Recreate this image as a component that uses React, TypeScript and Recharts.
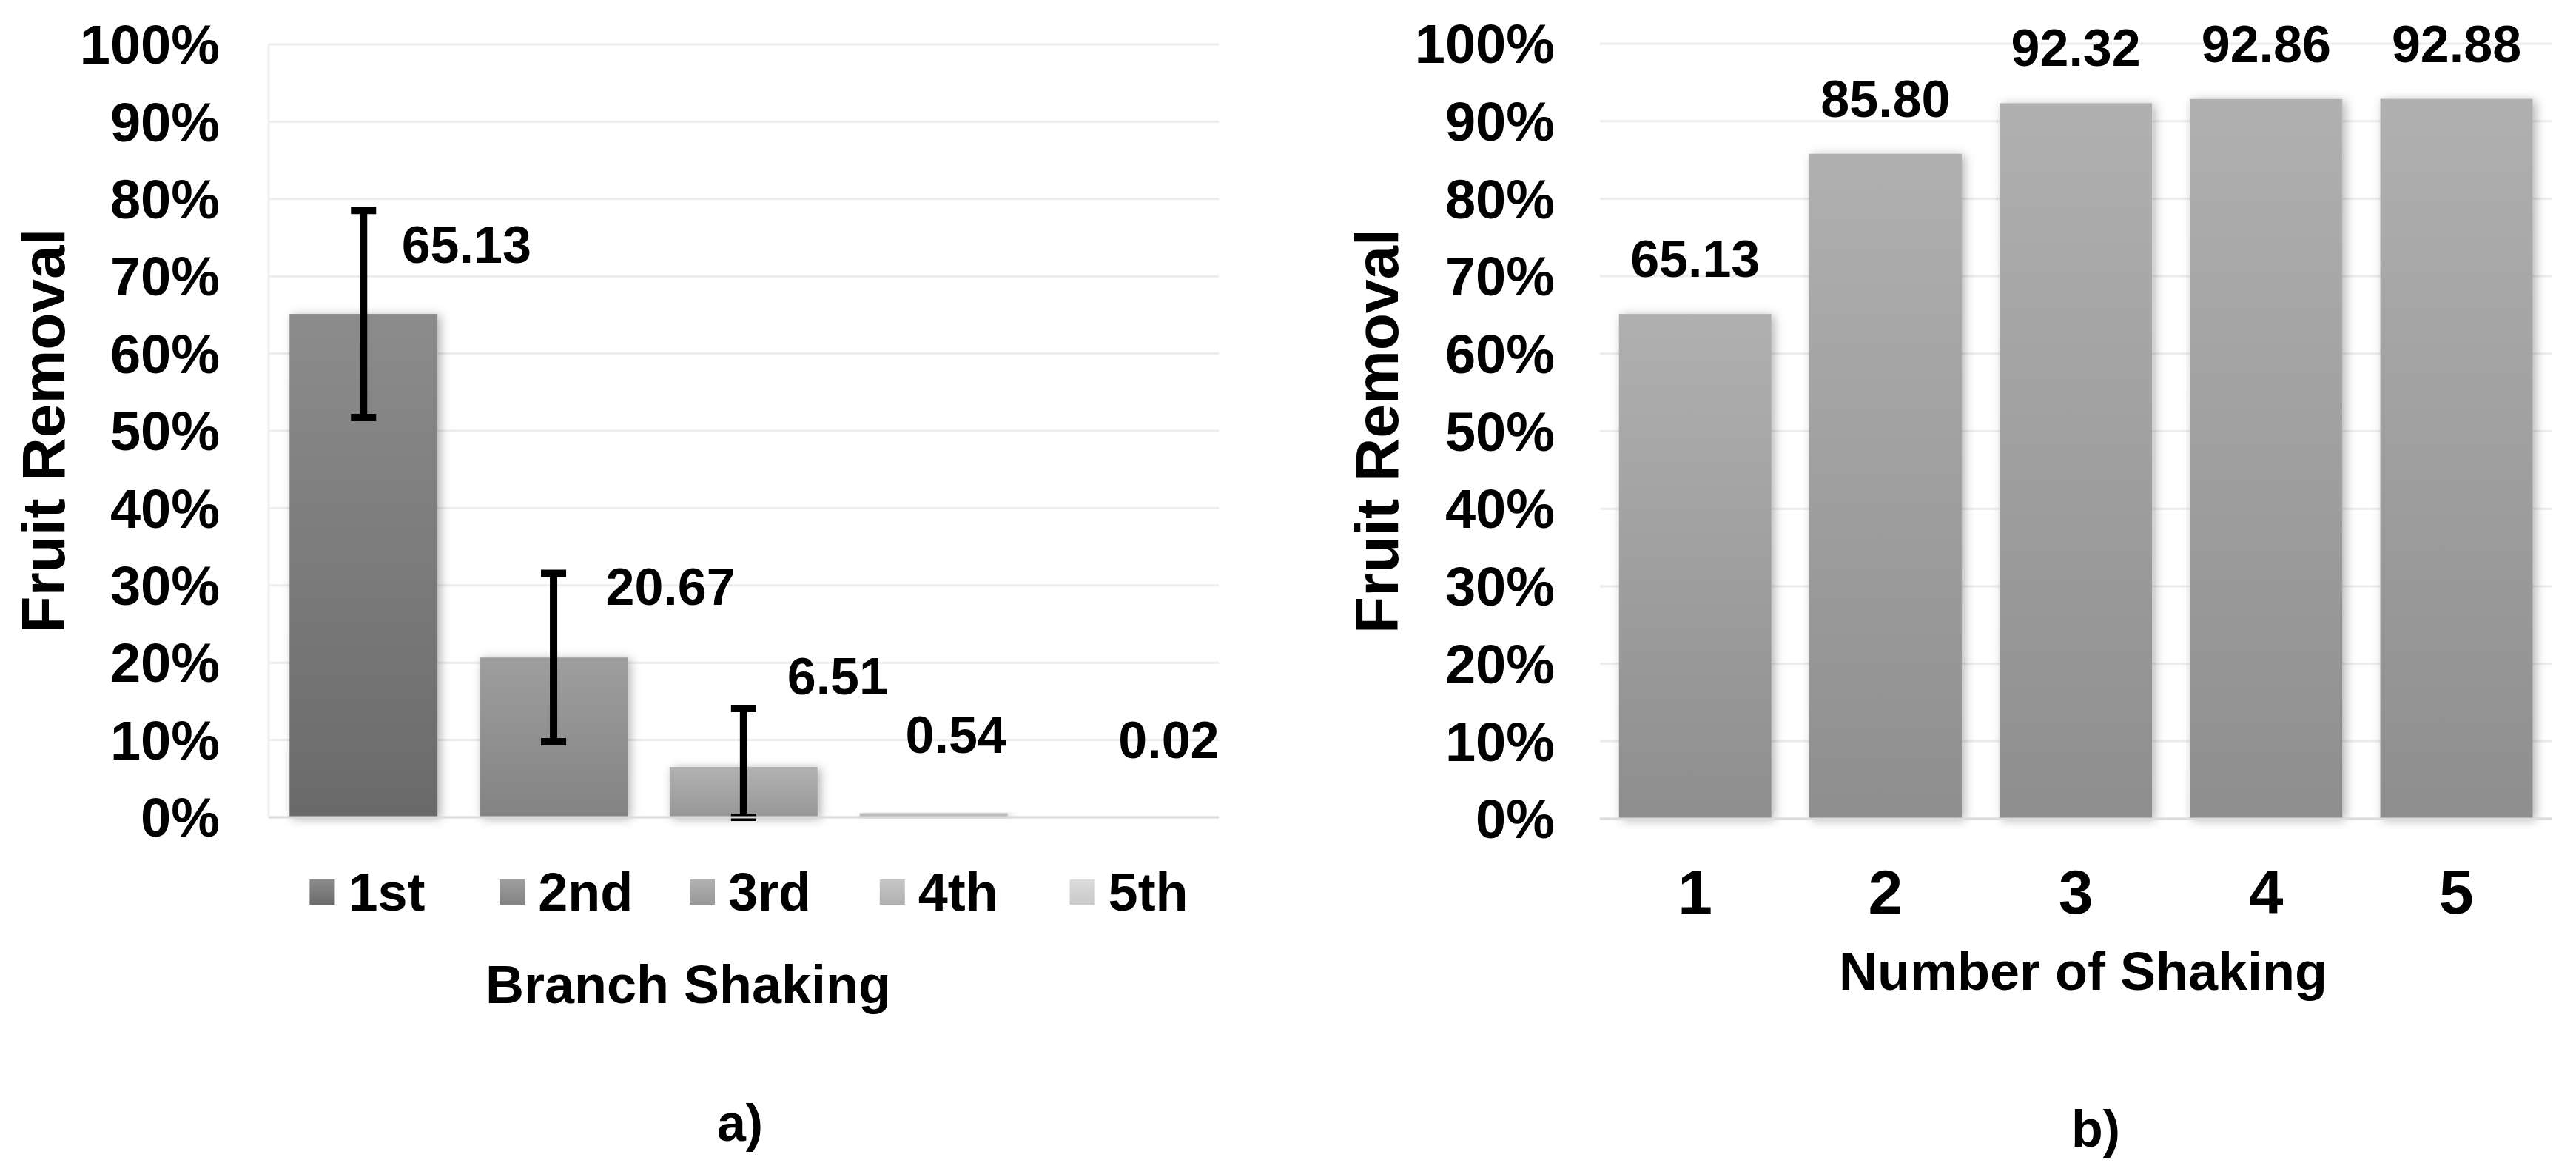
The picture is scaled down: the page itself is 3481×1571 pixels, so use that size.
import React from 'react';
import { BarChart, Bar, XAxis, YAxis, CartesianGrid, Cell, ErrorBar, LabelList, Label } from 'recharts';

// panel a) – removal per branch shaking
const branchCategories = ['1st', '2nd', '3rd', '4th', '5th'];
const branchRemoval = [65.13, 20.67, 6.51, 0.54, 0.02];
const branchSd = [13.4, 10.9, 7.57, 0, 0];

// panel b) – cumulative removal by number of shakings
const shakeCategories = ['1', '2', '3', '4', '5'];
const cumulativeRemoval = [65.13, 85.8, 92.32, 92.86, 92.88];

const percentTicks = [0, 10, 20, 30, 40, 50, 60, 70, 80, 90, 100];

// greys for the five branch bars (top, bottom of the gradient)
const branchShades = [
  ['#8c8c8c', '#6a6a6a'],
  ['#9e9e9e', '#838383'],
  ['#b2b2b2', '#979797'],
  ['#c6c6c6', '#b0b0b0'],
  ['#dcdcdc', '#c9c9c9'],
];
// label nudges for panel a) (dx from bar centre, rise of baseline above bar top)
const labelDx = [139, 158, 127, 30, 61];
const labelRise = [69, 71, 98, 81, 80];

const FONT = '"Liberation Sans", Arial, Helvetica, sans-serif';

// error bars are cut at the 0% line, so the lower arm never goes below zero
const branchData = branchCategories.map((name, i) => ({
  name,
  removal: branchRemoval[i],
  err: branchSd[i] ? [Math.min(branchSd[i], branchRemoval[i]), branchSd[i]] : 0,
}));
const shakeData = shakeCategories.map((name, i) => ({ name, removal: cumulativeRemoval[i] }));

const pct = (v: number) => `${v}%`;

function yTitle(baselineX: number) {
  return (p: any) => {
    const vb = p.viewBox || {};
    const x = vb.x + baselineX;
    const cy = vb.y + vb.height / 2;
    return (
      <text x={x} y={cy} transform={`rotate(-90 ${x} ${cy})`} textAnchor="middle"
        fontFamily={FONT} fontWeight="bold" fontSize={82} fill="#000">
        Fruit Removal
      </text>
    );
  };
}

function xTitle(text: string, dx: number, dy: number) {
  return (p: any) => {
    const vb = p.viewBox || {};
    return (
      <text x={vb.x + vb.width / 2 + dx} y={vb.y + dy} textAnchor="middle"
        fontFamily={FONT} fontWeight="bold" fontSize={72} fill="#000">
        {text}
      </text>
    );
  };
}

const shadowBar = (filterId: string) => (p: any) => (
  <rect x={p.x} y={p.y} width={p.width} height={Math.max(p.height, 0)} fill={p.fill} filter={`url(#${filterId})`} />
);

function LegendTick(p: any) {
  const i = branchCategories.indexOf(p.payload.value);
  return (
    <g>
      <rect x={p.x - 73} y={p.y + 84} width={34} height={34} fill={`url(#branchGrad${i})`} />
      <text x={p.x - 21} y={p.y + 126} fontFamily={FONT} fontWeight="bold" fontSize={72} fill="#000">
        {p.payload.value}
      </text>
    </g>
  );
}

function BranchLabel(p: any) {
  const i = p.index;
  const vb = p.viewBox || p;
  const cx = vb.x + vb.width / 2 + labelDx[i];
  const y = vb.y - labelRise[i];
  return (
    <text x={cx} y={y} textAnchor="middle" fontFamily={FONT} fontWeight="bold" fontSize={70} fill="#000">
      {Number(p.value).toFixed(2)}
    </text>
  );
}

export default function App() {
  const tickStyle = { fontFamily: FONT, fontWeight: 'bold', fontSize: 74, fill: '#000' };
  return (
    <div style={{ position: 'absolute', left: 0, top: 0, width: 3481, height: 1571, background: '#fff' }}>
      <div style={{ position: 'absolute', left: 0, top: 0 }}>
        <BarChart width={1740} height={1571} data={branchData} barCategoryGap="11%"
          margin={{ top: 60, right: 93, left: 0, bottom: 167 }}>
          <defs>
            {branchShades.map(([top, bottom], i) => (
              <linearGradient key={i} id={`branchGrad${i}`} x1="0" y1="0" x2="0" y2="1">
                <stop offset="0%" stopColor={top} />
                <stop offset="100%" stopColor={bottom} />
              </linearGradient>
            ))}
            <filter id="shadowA" x="-20%" y="-20%" width="140%" height="140%">
              <feDropShadow dx="4" dy="2" stdDeviation="7" floodColor="#000" floodOpacity="0.3" />
            </filter>
          </defs>
          <CartesianGrid vertical={false} stroke="#ececec" strokeWidth={3} />
          <XAxis dataKey="name" height={300} interval={0} tickLine={false} tickSize={0} tickMargin={0}
            axisLine={{ stroke: '#dcdcdc', strokeWidth: 3 }} tick={<LegendTick />}>
            <Label content={xTitle('Branch Shaking', -75, 251)} />
          </XAxis>
          <YAxis width={363} domain={[0, 100]} ticks={percentTicks} interval={0}
            tickFormatter={pct} tickLine={false} tickSize={0} tickMargin={66}
            axisLine={{ stroke: '#efefef', strokeWidth: 3 }} tick={tickStyle}>
            <Label content={yTitle(87)} />
          </YAxis>
          <Bar dataKey="removal" isAnimationActive={false} shape={shadowBar('shadowA')}>
            {branchData.map((d, i) => (
              <Cell key={d.name} fill={`url(#branchGrad${i})`} />
            ))}
            <ErrorBar dataKey="err" width={17} strokeWidth={10} stroke="#000" isAnimationActive={false} />
            <LabelList dataKey="removal" content={<BranchLabel />} />
          </Bar>
        </BarChart>
      </div>

      <div style={{ position: 'absolute', left: 1740, top: 0 }}>
        <BarChart width={1741} height={1571} data={shakeData} barCategoryGap="10%"
          margin={{ top: 59, right: 33, left: 0, bottom: 165 }}>
          <defs>
            <linearGradient id="shakeGrad" x1="0" y1="0" x2="0" y2="1">
              <stop offset="0%" stopColor="#b0b0b0" />
              <stop offset="100%" stopColor="#8e8e8e" />
            </linearGradient>
            <filter id="shadowB" x="-20%" y="-20%" width="140%" height="140%">
              <feDropShadow dx="4" dy="2" stdDeviation="7" floodColor="#000" floodOpacity="0.3" />
            </filter>
          </defs>
          <CartesianGrid vertical={false} stroke="#ececec" strokeWidth={3} />
          <XAxis dataKey="name" height={300} interval={0} tickLine={false} tickSize={0} tickMargin={68}
            axisLine={{ stroke: '#dcdcdc', strokeWidth: 3 }}
            tick={{ fontFamily: FONT, fontWeight: 'bold', fontSize: 84, fill: '#000' }}>
            <Label content={xTitle('Number of Shaking', 10, 231)} />
          </XAxis>
          <YAxis width={422} domain={[0, 100]} ticks={percentTicks} interval={0}
            tickFormatter={pct} tickLine={false} axisLine={false} tickSize={0} tickMargin={61} tick={tickStyle}>
            <Label content={yTitle(149)} />
          </YAxis>
          <Bar dataKey="removal" fill="url(#shakeGrad)" isAnimationActive={false} shape={shadowBar('shadowB')}>
            <LabelList dataKey="removal" position="top" offset={50} formatter={(v: any) => Number(v).toFixed(2)}
              style={{ fontFamily: FONT, fontWeight: 'bold', fontSize: 70, fill: '#000' }} />
          </Bar>
        </BarChart>
      </div>

      <svg width={3481} height={1571} style={{ position: 'absolute', left: 0, top: 0, pointerEvents: 'none' }}>
        <text x={1000} y={1541} textAnchor="middle" fontFamily={FONT} fontWeight="bold" fontSize={70} fill="#000">a)</text>
        <text x={2832} y={1549} textAnchor="middle" fontFamily={FONT} fontWeight="bold" fontSize={70} fill="#000">b)</text>
      </svg>
    </div>
  );
}
